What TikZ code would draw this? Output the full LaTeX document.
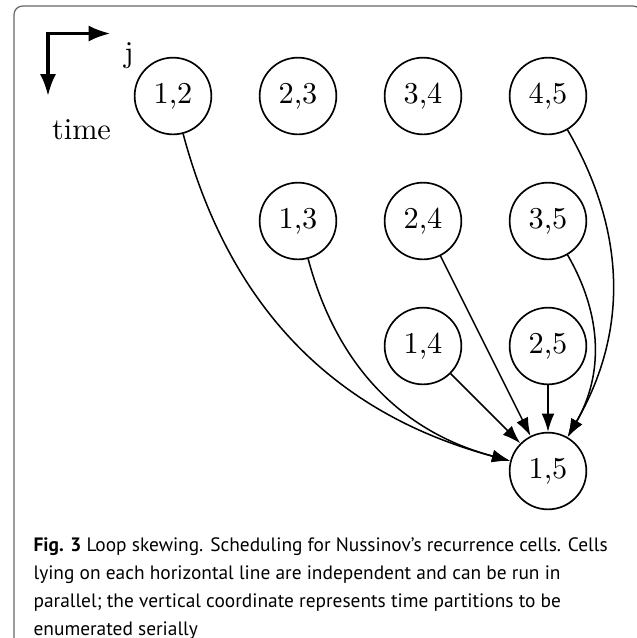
\documentclass[tikz,border=0pt]{standalone}
\usepackage{fontspec}
\newfontfamily\capfont{PT Sans}
\usetikzlibrary{arrows.meta}

\begin{document}
\begin{tikzpicture}[x=1.45cm,y=1.45cm,
		cell/.style={draw,circle,line width=0.55pt,minimum size=0.89cm,inner sep=0pt},
		dep/.style={-{Latex[length=6pt,width=4.2pt]},line width=0.5pt},
		axes/.style={{Latex[length=7.2pt,width=5.3pt]}-{Latex[length=7.2pt,width=5.3pt]},line width=1.1pt}]
		%%%%% FRAME %%%%%
		\useasboundingbox (-0.384,-4.336) rectangle (4.712,0.768);
		\clip (-0.384,-4.336) rectangle (4.712,0.768);
		\draw[black!60,line width=0.4pt,rounded corners=0.1cm] (-0.272,-4.6) rectangle (4.75,0.72);
		
		%%%%% AXES %%%%%
		\coordinate (ttip) at (0,0);
		\coordinate (corner) at (0,0.5);
		\coordinate (jtip) at (0.5,0.5);
		\draw[axes] (ttip) -- (corner) -- (jtip);
		\node[anchor=base] (jlabel) at (0.648,0.272) {j};
		\node[anchor=base] (timelabel) at (0.268,-0.344) {time};
		
		%%%%% CELLS %%%%%
		\node[cell] (n12) at (1,0) {1,2};
		\node[cell] (n23) at (2,0) {2,3};
		\node[cell] (n34) at (3,0) {3,4};
		\node[cell] (n45) at (4,0) {4,5};
		
		\node[cell] (n13) at (2,-1) {1,3};
		\node[cell] (n24) at (3,-1) {2,4};
		\node[cell] (n35) at (4,-1) {3,5};
		
		\node[cell] (n14) at (3,-2) {1,4};
		\node[cell] (n25) at (4,-2) {2,5};
		
		\node[cell] (n15) at (4,-3) {1,5};
		
		%%%%% DEPENDENCES %%%%%
		\draw[dep] (n12) to[bend right=30] (n15);
		\draw[dep] (n13) to[bend right=30] (n15);
		\draw[dep] (n14) -- (n15);
		\draw[dep] (n24) -- (n15);
		\draw[dep] (n25) -- (n15);
		\draw[dep] (n35) to[bend left=30] (n15);
		\draw[dep] (n45) to[bend left=30] (n15);
		
		%%%%% CAPTION %%%%%
		\node[anchor=north west,align=left,inner sep=0pt,font=\capfont\fontsize{6.4}{9.2}\selectfont] (caption) at (-0.12,-3.53)
		{\textbf{Fig. 3} Loop skewing. Scheduling for Nussinov’s recurrence cells. Cells\\
			lying on each horizontal line are independent and can be run in\\
			parallel; the vertical coordinate represents time partitions to be\\
			enumerated serially};
	\end{tikzpicture}
\end{document}
